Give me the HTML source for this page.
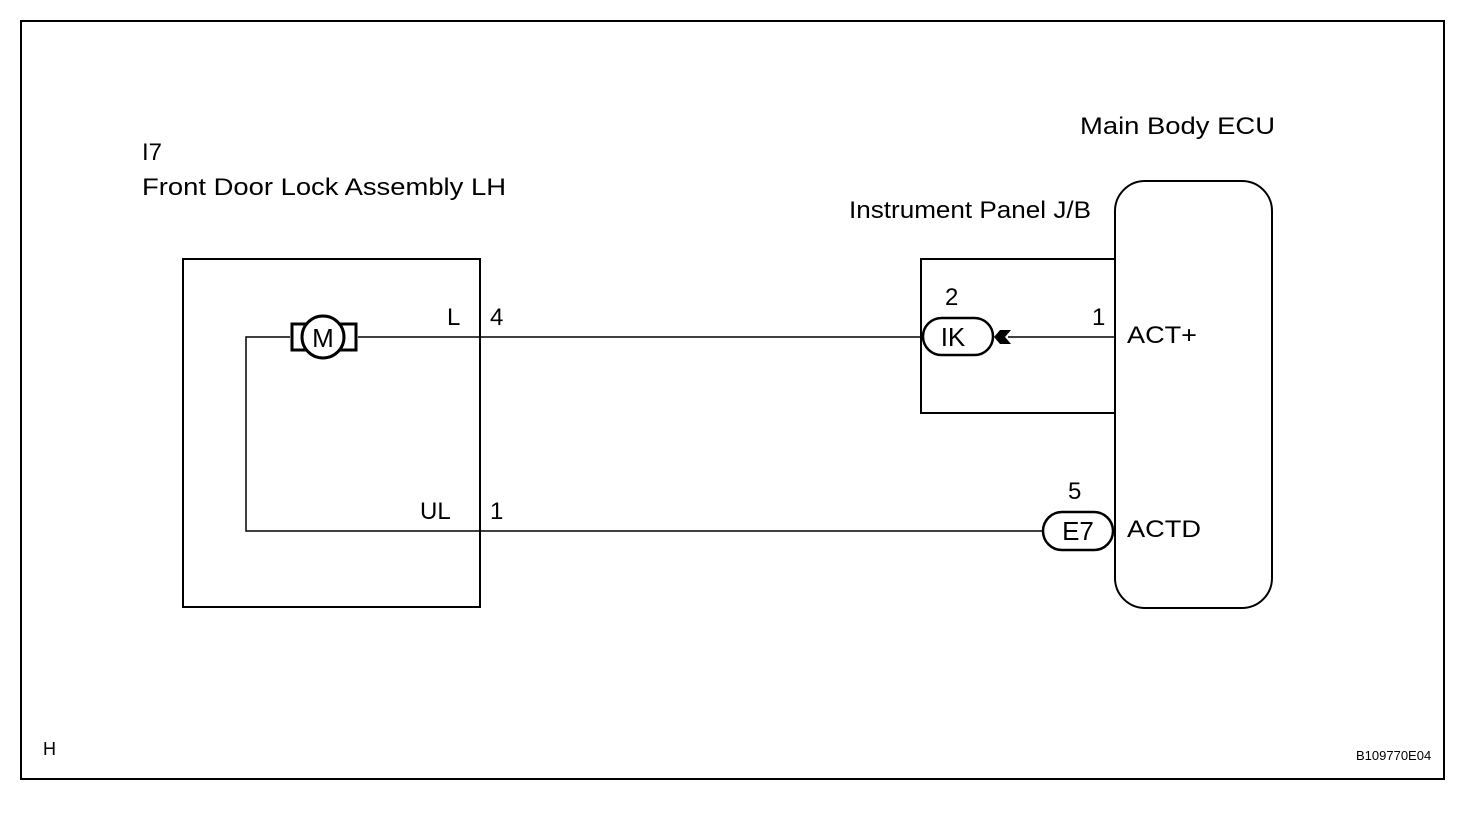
<!DOCTYPE html>
<html><head><style>
body{margin:0;background:#fff}
svg text{font-family:"Liberation Sans",Arial,sans-serif;fill:#000}
</style></head><body>
<svg width="1472" height="812" viewBox="0 0 1472 812" xmlns="http://www.w3.org/2000/svg">
<rect x="21" y="21" width="1423" height="758" fill="none" stroke="#000" stroke-width="2"/>
<rect x="183" y="259" width="297" height="348" fill="none" stroke="#000" stroke-width="2"/>
<rect x="921" y="259" width="194" height="154" fill="none" stroke="#000" stroke-width="2"/>
<rect x="1115" y="181" width="157" height="427" rx="30" fill="#fff" stroke="#000" stroke-width="2"/>
<g font-size="24">
<text x="142" y="160">I7</text>
<text x="142" y="195" textLength="364" lengthAdjust="spacingAndGlyphs">Front Door Lock Assembly LH</text>
<text x="1080" y="134" textLength="195" lengthAdjust="spacingAndGlyphs">Main Body ECU</text>
<text x="849" y="218" textLength="242" lengthAdjust="spacingAndGlyphs">Instrument Panel J/B</text>
<text x="447" y="325">L</text>
<text x="490" y="325">4</text>
<text x="420" y="519">UL</text>
<text x="490" y="519">1</text>
<text x="945" y="305">2</text>
<text x="1092" y="325">1</text>
<text x="1127" y="343" textLength="70" lengthAdjust="spacingAndGlyphs">ACT+</text>
<text x="1068" y="499">5</text>
<text x="1127" y="537" textLength="74" lengthAdjust="spacingAndGlyphs">ACTD</text>
<text x="43" y="755" font-size="18">H</text>
<text x="1356" y="760" font-size="13">B109770E04</text>
</g>
<g stroke="#000" fill="none" stroke-width="1.5">
<path d="M358 337 H923 M1008 337 H1115"/>
<path d="M290 337 H246 V531 H1043"/>
</g>
<rect x="292" y="324" width="64" height="26" fill="none" stroke="#000" stroke-width="3"/>
<circle cx="323" cy="337" r="21" fill="#fff" stroke="#000" stroke-width="3"/>
<text x="323" y="347" font-size="26" text-anchor="middle">M</text>
<rect x="923" y="318" width="70" height="37" rx="18.5" fill="#fff" stroke="#000" stroke-width="2.5"/>
<text x="953" y="346" font-size="26" text-anchor="middle">IK</text>
<path d="M994 337 L1000 330 L1011 330 L1005 337 L1011 344 L1000 344 Z" fill="#000"/>
<rect x="1043" y="512" width="70" height="38" rx="19" fill="#fff" stroke="#000" stroke-width="2.5"/>
<text x="1078" y="540" font-size="26" text-anchor="middle">E7</text>
</svg>
</body></html>
